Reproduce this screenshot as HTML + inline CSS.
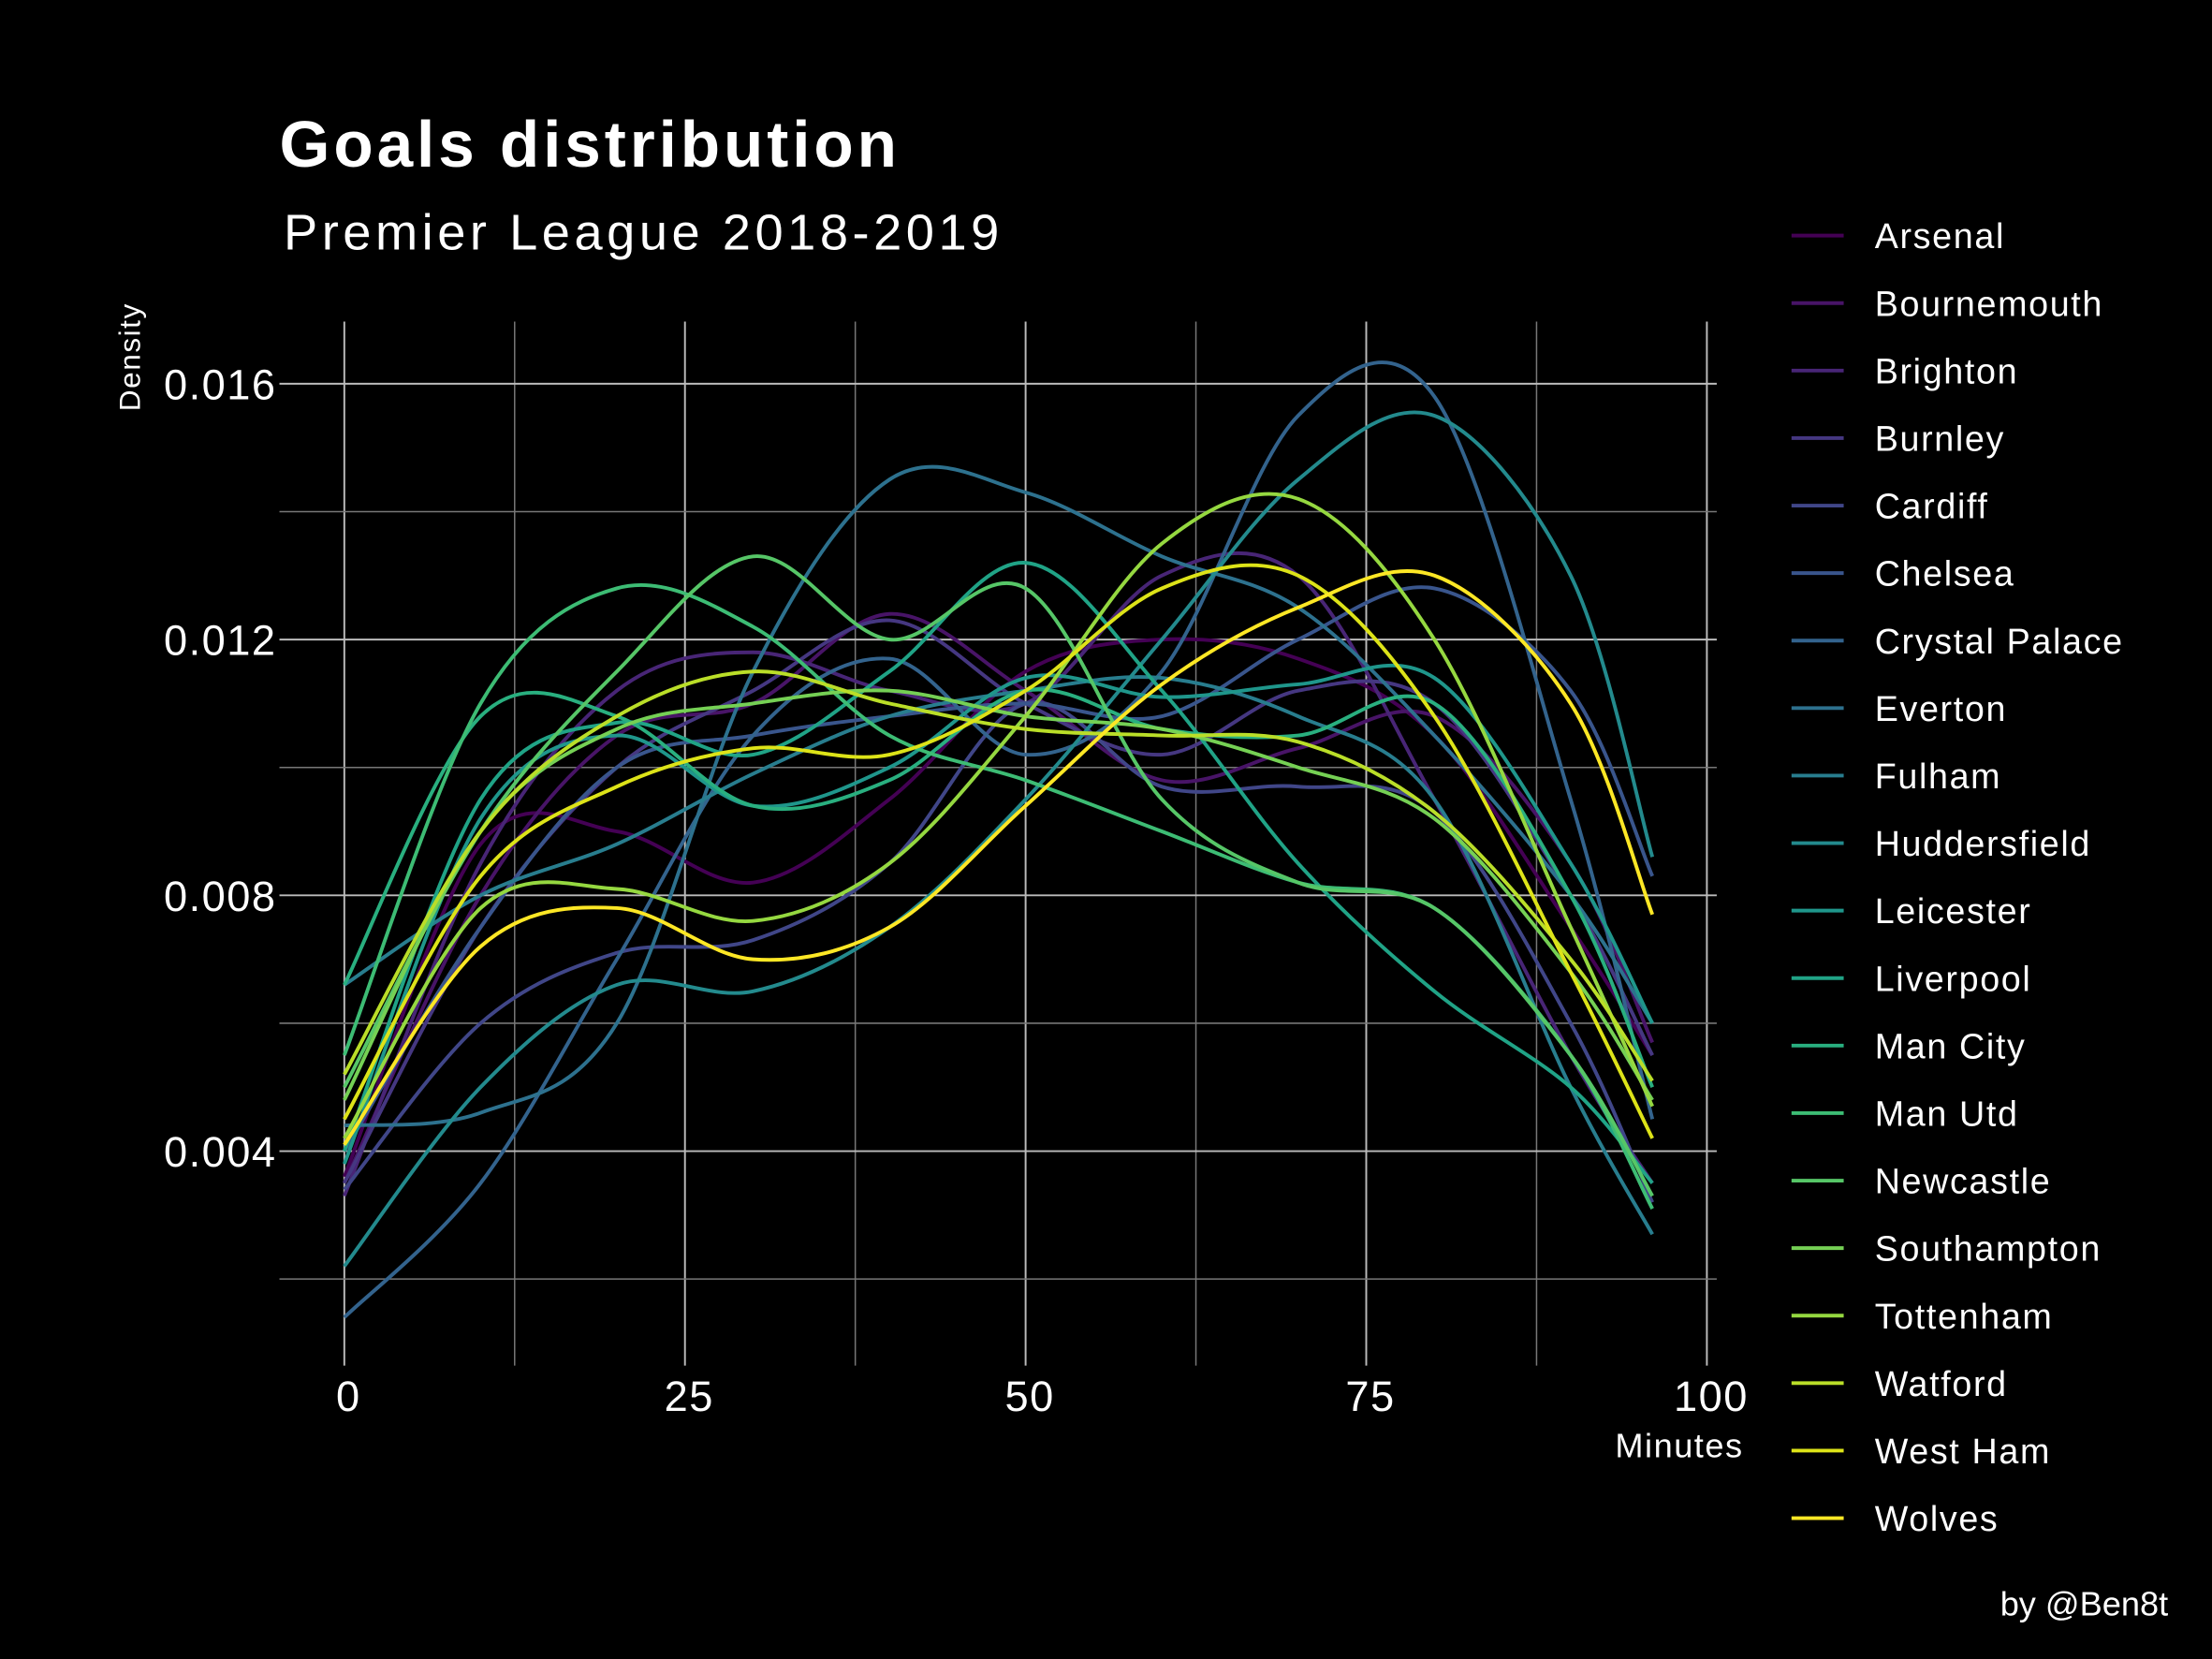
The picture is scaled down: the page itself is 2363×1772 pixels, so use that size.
<!DOCTYPE html>
<html><head><meta charset="utf-8"><style>
html,body{margin:0;padding:0;background:#000;}
svg{display:block;font-family:"Liberation Sans",sans-serif;}
</style></head><body>
<svg width="2363" height="1772" viewBox="0 0 1568 1176">
<rect width="1568" height="1176" fill="#000"/>
<text x="198" y="118" fill="#fff" font-size="46" font-weight="bold" letter-spacing="2.6">Goals distribution</text>
<text x="201" y="177" fill="#fff" font-size="36" letter-spacing="3">Premier League 2018-2019</text>
<text transform="translate(99,253) rotate(-90)" text-anchor="middle" fill="#fff" font-size="21" letter-spacing="1">Density</text>
<text x="1236" y="1033" text-anchor="end" fill="#fff" font-size="24" letter-spacing="1">Minutes</text>
<text x="1537" y="1145" text-anchor="end" fill="#fff" font-size="24">by @Ben8t</text>
<g id="grid"></g>
<g id="ticks"></g>
<g id="lines"></g>
<g id="legend"></g>
</svg>
<script>
const teams=["Arsenal","Bournemouth","Brighton","Burnley","Cardiff","Chelsea","Crystal Palace","Everton","Fulham","Huddersfield","Leicester","Liverpool","Man City","Man Utd","Newcastle","Southampton","Tottenham","Watford","West Ham","Wolves"];
const colors=["#440154","#481467","#482576","#453781","#404688","#39558c","#33638d","#2d718e","#287d8e","#238a8d","#1f968b","#20a386","#29af7f","#3dbc74","#56c667","#75d054","#95d840","#bade28","#dde318","#fde725"];
const minutes=[0,10,20,30,40,50,60,70,80,90,96];
const xTicks=[0,25,50,75,100];
const yTicks=[0.004,0.008,0.012,0.016];
const yTickLabels=["0.004","0.008","0.012","0.016"];
const dArsenal=[.0036,.0088,.0090,.0082,.0095,.0115,.0120,.0117,.0105,.0075,.0055];
const dBournemouth=[.0035,.0080,.0105,.0110,.0124,.0112,.0098,.0103,.0108,.0085,.0057];
const dBrighton=[.0033,.0085,.0112,.0118,.0112,.0110,.0130,.0130,.0095,.0055,.0035];
const dBurnley=[.0035,.0075,.0100,.0112,.0123,.0110,.0102,.0112,.0110,.0080,.0055];
const dCardiff=[.0034,.0060,.0071,.0073,.0085,.0110,.0097,.0097,.0093,.0060,.0032];
const dChelsea=[.0040,.0075,.0100,.0105,.0108,.0110,.0108,.0120,.0128,.0112,.0083];
const dPalace=[.0014,.0035,.0070,.0105,.0117,.0102,.0115,.0155,.0158,.0095,.0045];
const dEverton=[.0044,.0046,.0060,.0115,.0145,.0143,.0133,.0125,.0105,.0080,.0060];
const dFulham=[.0066,.0080,.0088,.0099,.0108,.0112,.0114,.0108,.0095,.0050,.0027];
const dHudd=[.0022,.0050,.0066,.0065,.0075,.0095,.0120,.0145,.0155,.0130,.0086];
const dLeicester=[.0038,.0092,.0105,.0094,.0100,.0114,.0111,.0113,.0114,.0085,.0060];
const dLiverpool=[.0040,.0095,.0107,.0102,.0115,.0132,.0112,.0085,.0065,.0050,.0035];
const dManCity=[.0066,.0108,.0108,.0094,.0098,.0112,.0106,.0105,.0110,.0080,.0050];
const dManUtd=[.0055,.0110,.0128,.0122,.0105,.0098,.0090,.0082,.0078,.0055,.0031];
const dNewcastle=[.0050,.0090,.0115,.0133,.0120,.0128,.0095,.0082,.0078,.0055,.0033];
const dSouthampton=[.0048,.0090,.0106,.0110,.0112,.0108,.0106,.0100,.0092,.0068,.0048];
const dTottenham=[.0042,.0078,.0081,.0076,.0085,.0108,.0135,.0142,.0120,.0075,.0047];
const dWatford=[.0052,.0090,.0108,.0115,.0110,.0106,.0105,.0104,.0093,.0070,.0051];
const dWestHam=[.0045,.0083,.0097,.0103,.0102,.0112,.0128,.0130,.0108,.0068,.0042];
const dWolves=[.0041,.0072,.0078,.0070,.0075,.0094,.0113,.0125,.0130,.0110,.0077];
const series=[dArsenal,dBournemouth,dBrighton,dBurnley,dCardiff,dChelsea,dPalace,dEverton,dFulham,dHudd,dLeicester,dLiverpool,dManCity,dManUtd,dNewcastle,dSouthampton,dTottenham,dWatford,dWestHam,dWolves];

const NS="http://www.w3.org/2000/svg";
const X=v=>244+v*(1210-244)/100;
const Y=v=>272+(0.016-v)*(816-272)/0.012;
function mk(tag,attrs,parent){const e=document.createElementNS(NS,tag);for(const k in attrs)e.setAttribute(k,attrs[k]);parent.appendChild(e);return e;}
const grid=document.getElementById('grid'),ticks=document.getElementById('ticks'),lines=document.getElementById('lines'),legend=document.getElementById('legend');
for(let i=0;i<=8;i++){const gx=X(i*12.5);
 const l=mk('line',{x1:gx,x2:gx,y1:228,y2:968,stroke:i%2?'#777':'#bbb','stroke-width':i%2?1:1.3},grid);
 
 }
for(let v=0.002;v<0.0169;v+=0.002){const gy=Y(v);const major=Math.round(v*1000)%4===0;
 const l=mk('line',{x1:198,x2:1217,y1:gy,y2:gy,stroke:major?'#bbb':'#777','stroke-width':major?1.3:1},grid);
 
 }
yTicks.forEach((v,i)=>{const t=mk('text',{x:116,y:Y(v)+11,fill:'#fff','font-size':30,'letter-spacing':1},ticks);t.textContent=yTickLabels[i];
 
 });
xTicks.forEach(v=>{const t=mk('text',{x:X(v)+3,y:1000,fill:'#fff','font-size':30,'text-anchor':'middle','letter-spacing':1},ticks);t.textContent=v;
 
 });
function path(xs,ys){const p=xs.map((x,i)=>[X(x),Y(ys[i])]);let d=`M${p[0][0]},${p[0][1]}`;
 for(let i=0;i<p.length-1;i++){const p0=p[Math.max(0,i-1)],p1=p[i],p2=p[i+1],p3=p[Math.min(p.length-1,i+2)];
  const c1=[p1[0]+(p2[0]-p0[0])/6,p1[1]+(p2[1]-p0[1])/6],c2=[p2[0]-(p3[0]-p1[0])/6,p2[1]-(p3[1]-p1[1])/6];
  d+=`C${c1[0]},${c1[1]} ${c2[0]},${c2[1]} ${p2[0]},${p2[1]}`;}return d;}
series.forEach((s,i)=>{const e=mk('path',{d:path(minutes,s),fill:'none',stroke:colors[i],'stroke-width':2.6},lines);
 
 
 const ly=167+i*47.85;
 const g=mk('g',{},legend);
 
 
 mk('line',{x1:1270,x2:1307,y1:ly,y2:ly,stroke:colors[i],'stroke-width':2.6},g);
 const t=mk('text',{x:1329,y:ly+9,fill:'#fff','font-size':25,'letter-spacing':1.1},g);t.textContent=teams[i];});
</script>
</body></html>
